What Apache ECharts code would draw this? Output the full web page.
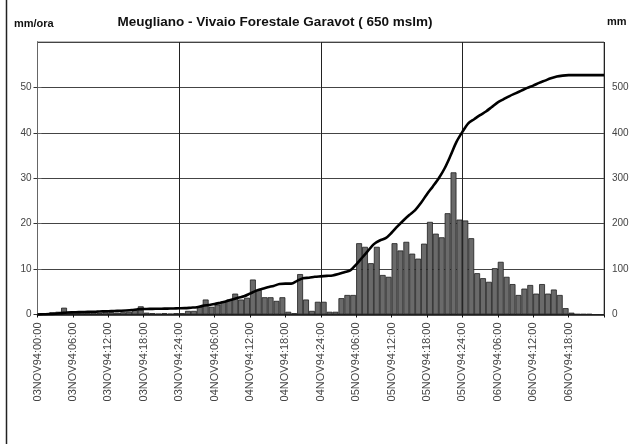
<!DOCTYPE html>
<html>
<head>
<meta charset="utf-8">
<script src="https://cdn.jsdelivr.net/npm/echarts@6/dist/echarts.min.js"></script>
<style>html,body{margin:0;padding:0;background:#fff}#c{width:632px;height:444px}</style>
</head>
<body>
<div id="c"></div>
<script>
// Tick labels every 6 hours (hour 0 .. 90)
const tickLabels = [
  "03NOV94:00:00","03NOV94:06:00","03NOV94:12:00","03NOV94:18:00",
  "03NOV94:24:00","04NOV94:06:00","04NOV94:12:00","04NOV94:18:00",
  "04NOV94:24:00","05NOV94:06:00","05NOV94:12:00","05NOV94:18:00",
  "05NOV94:24:00","06NOV94:06:00","06NOV94:12:00","06NOV94:18:00"
];
// Hourly rainfall (mm/ora), hours 0..95
const hourlyRain = [
  0.2,0.3,0.5,0.6,1.5,0.5,0.4,0.4,0.4,0.4,0.3,0.5,
  0.5,0.4,0.5,0.6,1.0,1.8,0.4,0.3,0.2,0.3,0.2,0.3,
  0.3,0.8,0.8,1.7,3.3,1.7,2.2,2.8,3.3,4.6,3.3,3.7,
  7.7,5.4,3.8,3.8,3.0,3.8,0.6,0.3,8.9,3.3,0.8,2.8,
  2.8,0.6,0.6,3.6,4.3,4.3,15.7,14.9,11.3,14.9,8.7,8.3,
  15.7,14.1,16.0,13.4,12.3,15.6,20.4,17.8,17.0,22.3,31.3,20.9,
  20.7,16.8,9.1,8.0,7.2,10.2,11.6,8.3,6.7,4.3,5.7,6.5,
  4.6,6.7,4.6,5.5,4.3,1.4,0.4,0.1,0.1,0.1,0,0
];
// Cumulative rainfall (mm), hours 0..96
const cumulative = [
  0,0.5,1,1.8,3,4.3,4.8,5.2,5.6,6,6.3,6.8,
  7.3,7.7,8.2,8.8,9.8,11.6,12,12.3,12.5,12.8,13,13.3,
  13.6,14,15,16,19,21,23,26,29,33,37,40,
  46,52,56,60,63,67,68,68,74,80,81,83,
  84,85,86,89,93,97,110,125,140,155,163,168,
  180,194,207,219,230,246,265,282,300,322,350,380,
  402,421,430,439,447,457,467,474,481,487,493,499,
  504,510,515,520,524,526,527,527,527,527,527,527,527
];

const chart = echarts.init(document.getElementById('c'), null, {renderer: 'canvas'});
const FONT = 'Liberation Sans';
chart.setOption({
  animation: false,
  backgroundColor: '#fff',
  graphic: [
    {type: 'line', shape: {x1: 6.5, y1: 0, x2: 6.5, y2: 444}, style: {stroke: '#222', lineWidth: 1.5}},
    {type: 'text', left: 14, top: 18, style: {text: 'mm/ora', fill: '#111', font: 'bold 11px ' + FONT}},
    {type: 'text', left: 607, top: 16, style: {text: 'mm', fill: '#111', font: 'bold 11px ' + FONT}}
  ],
  title: {
    text: 'Meugliano - Vivaio Forestale Garavot ( 650 mslm)',
    left: 270, top: 10, textAlign: 'center',
    textStyle: {fontFamily: FONT, fontSize: 13.5, fontWeight: 'bold', color: '#111'}
  },
  grid: {left: 37.5, right: 28, top: 42, bottom: 129.5, show: true, borderColor: '#777', borderWidth: 1},
  xAxis: [
    {
      type: 'value', min: 0, max: 96, interval: 6, position: 'bottom',
      axisLine: {show: true, onZero: false, lineStyle: {color: '#111', width: 1.5}},
      axisTick: {show: true, length: 3, lineStyle: {color: '#111'}},
      splitLine: {show: false},
      axisLabel: {
        rotate: 90, margin: 8, fontFamily: FONT, fontSize: 11, color: '#444',
        formatter: v => tickLabels[Math.round(v / 6)] || ''
      }
    },
    {
      type: 'value', min: 0, max: 96, interval: 24, position: 'bottom',
      axisLine: {show: false}, axisTick: {show: false}, axisLabel: {show: false},
      splitLine: {show: true, lineStyle: {color: '#222', width: 1}}
    }
  ],
  yAxis: [
    {
      type: 'value', min: 0, max: 60, interval: 10, position: 'left',
      axisLine: {show: true, lineStyle: {color: '#333', width: 1}},
      axisTick: {show: true, length: 4, lineStyle: {color: '#333'}},
      axisLabel: {showMaxLabel: false, fontFamily: FONT, fontSize: 10, color: '#444', margin: 6},
      splitLine: {show: true, lineStyle: {color: '#444', width: 1}}
    },
    {
      type: 'value', min: 0, max: 600, interval: 100, position: 'right',
      axisLine: {show: true, lineStyle: {color: '#666', width: 1}},
      axisTick: {show: true, length: 4, lineStyle: {color: '#666'}},
      axisLabel: {showMaxLabel: false, fontFamily: FONT, fontSize: 10, color: '#444', margin: 8},
      splitLine: {show: false}
    }
  ],
  series: [
    {
      type: 'bar', xAxisIndex: 0, yAxisIndex: 0,
      data: hourlyRain.map((v, i) => [i + 0.5, v]),
      barWidth: '100%', barGap: '0%',
      itemStyle: {color: '#6a6a6a', borderColor: '#1e1e1e', borderWidth: 0.8}
    },
    {
      type: 'line', xAxisIndex: 0, yAxisIndex: 1,
      data: cumulative.map((v, i) => [i, v]),
      showSymbol: false, smooth: 0.3,
      lineStyle: {color: '#000', width: 2.6}
    }
  ]
});
</script>
</body>
</html>
